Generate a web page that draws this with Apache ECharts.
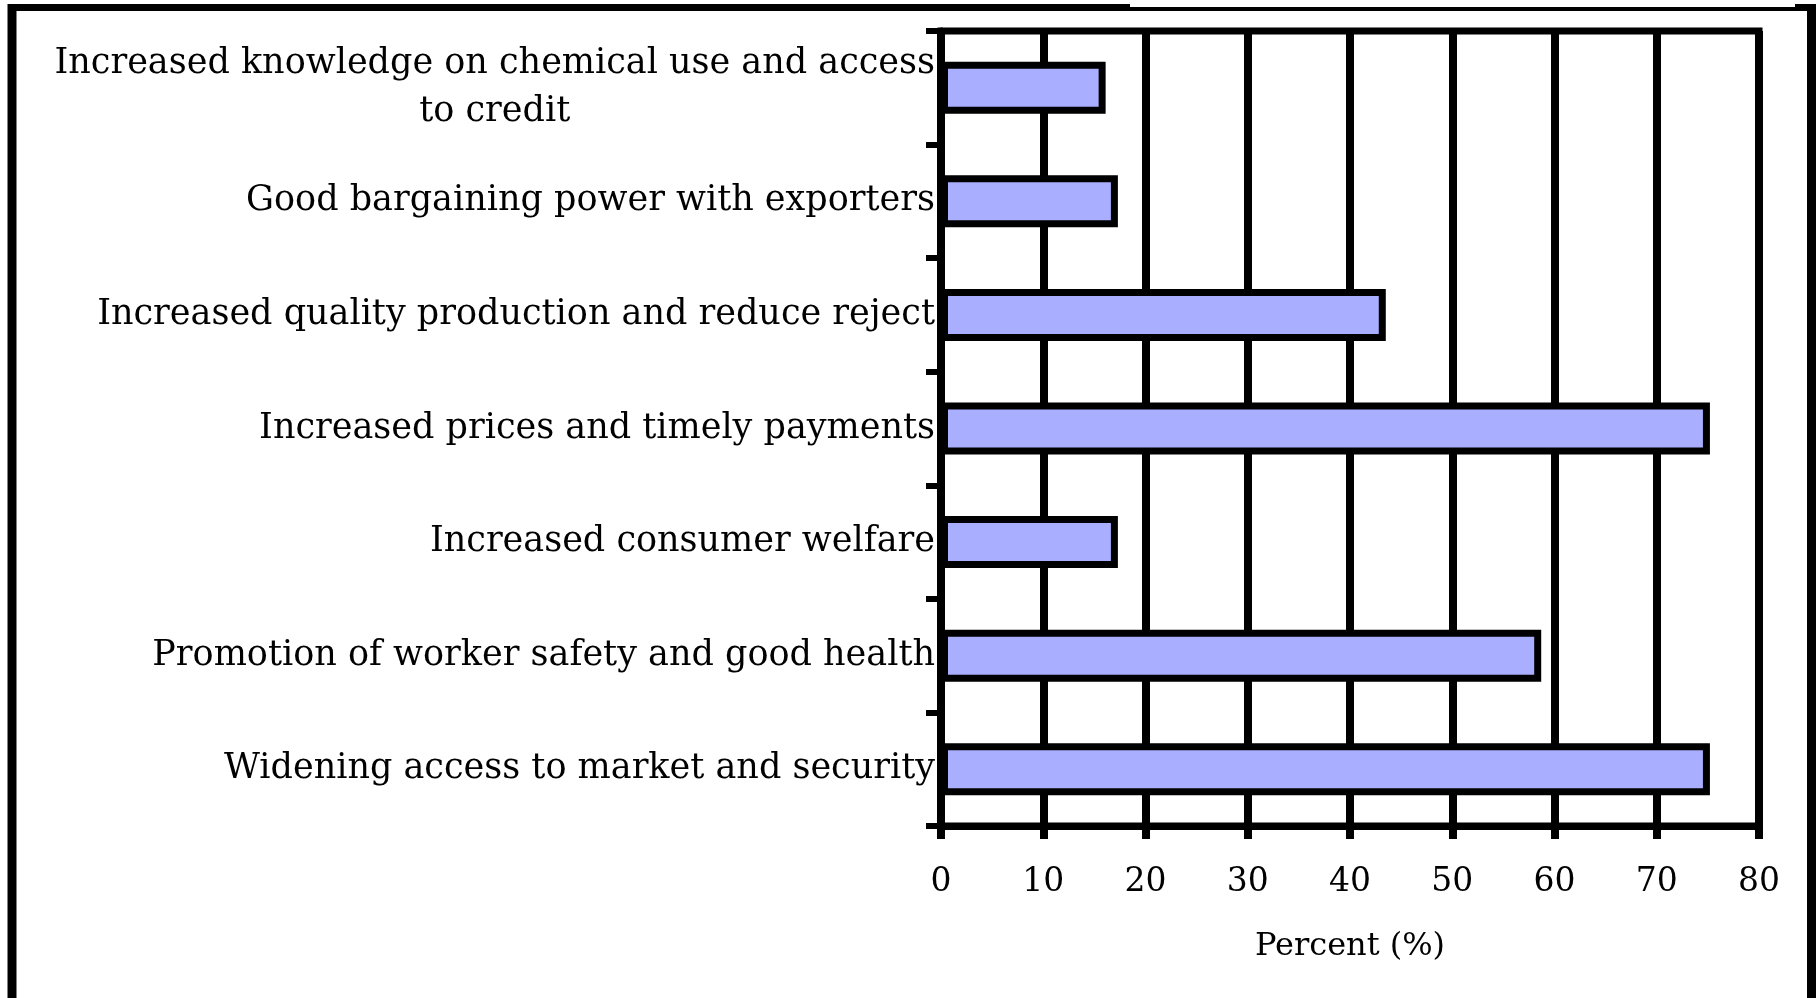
<!DOCTYPE html>
<html>
<head>
<meta charset="utf-8">
<script src="https://cdn.jsdelivr.net/npm/echarts@6/dist/echarts.min.js"></script>
<style>
html, body { margin: 0; padding: 0; background: #fff; }
#chart { width: 1816px; height: 998px; }
</style>
</head>
<body>
<div id="chart"></div>
<script>
// data
var categories = [
    'Increased knowledge on chemical use and access\nto credit',
    'Good bargaining power with exporters',
    'Increased quality production and reduce reject',
    'Increased prices and timely payments',
    'Increased consumer welfare',
    'Promotion of worker safety and good health',
    'Widening access to market and security'
];
var percentValues = [16.1, 17.3, 43.5, 75.2, 17.3, 58.7, 75.2];
var xTicks = [0, 10, 20, 30, 40, 50, 60, 70, 80];

var chart = echarts.init(document.getElementById('chart'));
var serif = 'DejaVu Serif';

var option = {
    backgroundColor: '#ffffff',
    animation: false,
    // outer frame of the scanned figure
    graphic: [
        { type: 'line', shape: { x1: 12, y1: 998, x2: 12, y2: 4 }, style: { stroke: '#000', lineWidth: 9 } },
        { type: 'line', shape: { x1: 8, y1: 7.5, x2: 1130, y2: 7.5 }, style: { stroke: '#000', lineWidth: 7 } },
        { type: 'line', shape: { x1: 1130, y1: 9, x2: 1800, y2: 9 }, style: { stroke: '#000', lineWidth: 4 } },
        { type: 'line', shape: { x1: 1795, y1: 7.5, x2: 1816, y2: 7.5 }, style: { stroke: '#000', lineWidth: 7 } },
        { type: 'line', shape: { x1: 1811.5, y1: 4, x2: 1811.5, y2: 998 }, style: { stroke: '#000', lineWidth: 9 } }
    ],
    grid: {
        left: 941,
        right: 57,
        top: 31,
        bottom: 172,
        show: true,
        borderColor: '#000',
        borderWidth: 7
    },
    xAxis: {
        type: 'value',
        min: xTicks[0],
        max: xTicks[xTicks.length - 1],
        interval: 10,
        name: 'Percent (%)',
        nameLocation: 'middle',
        nameGap: 105,
        nameTextStyle: { fontFamily: serif, fontSize: 32, color: '#000' },
        axisLine: { show: true, lineStyle: { color: '#000', width: 7 } },
        axisTick: { show: true, inside: false, length: 13, lineStyle: { color: '#000', width: 8 } },
        axisLabel: { margin: 40, fontFamily: serif, fontSize: 33, color: '#000' },
        splitLine: { show: true, lineStyle: { color: '#000', width: 8 } }
    },
    yAxis: {
        type: 'category',
        inverse: true,
        data: categories,
        axisLine: { show: true, lineStyle: { color: '#000', width: 7 } },
        axisTick: { show: true, alignWithLabel: false, length: 15, lineStyle: { color: '#000', width: 6 } },
        axisLabel: {
            margin: 6,
            color: '#000',
            formatter: function (v) {
                return v.split('\n').map(function (l) { return '{c|' + l + '}'; }).join('\n');
            },
            rich: {
                c: { fontFamily: serif, fontSize: 35, lineHeight: 48, color: '#000', align: 'center' }
            }
        },
        splitLine: { show: false }
    },
    series: [{
        type: 'bar',
        data: percentValues,
        barWidth: 52,
        itemStyle: { color: '#aaaeff', borderColor: '#000', borderWidth: 7 }
    }]
};

chart.setOption(option);
</script>
</body>
</html>
